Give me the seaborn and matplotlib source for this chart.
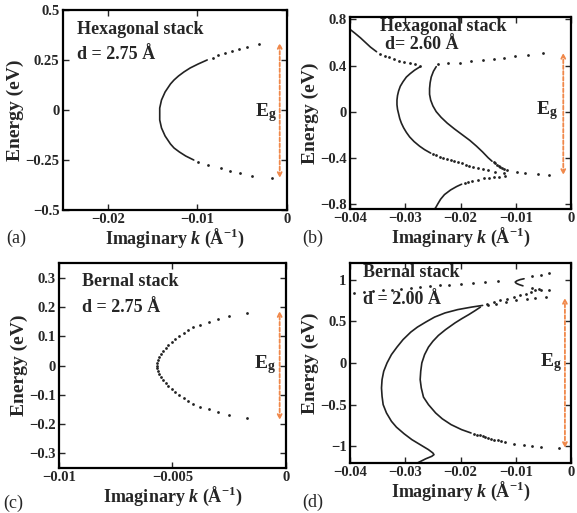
import numpy as np
import seaborn as sns
import matplotlib.pyplot as plt
from matplotlib.ticker import FuncFormatter

sns.set_style('ticks', {'xtick.direction': 'in', 'ytick.direction': 'in'})
plt.rcParams['font.family'] = ['Liberation Serif', 'DejaVu Serif']
plt.rcParams['font.weight'] = 'bold'
plt.rcParams['axes.labelweight'] = 'bold'
plt.rcParams['mathtext.fontset'] = 'custom'
plt.rcParams['mathtext.rm'] = 'Liberation Serif:bold'
plt.rcParams['mathtext.it'] = 'Liberation Serif:italic:bold'
plt.rcParams['mathtext.bf'] = 'Liberation Serif:bold'

CURVE = '#222222'
ARROW = '#f0884a'

# ---- (a) hexagonal stack, d = 2.75 A
a_line_e = [0.25, 0.23, 0.21, 0.19, 0.17, 0.15, 0.13, 0.11, 0.09, 0.07, 0.05, 0.03, 0.01, -0.01, -0.03,
            -0.05, -0.07, -0.09, -0.11, -0.13, -0.15, -0.17, -0.19, -0.21, -0.23, -0.25]
a_line_k = [-0.0089, -0.0099, -0.0108, -0.0115, -0.0121, -0.0126, -0.0130, -0.0133, -0.0136, -0.0138,
            -0.0140, -0.0141, -0.0142, -0.0142, -0.0142, -0.0142, -0.0141, -0.0140, -0.0138, -0.0136,
            -0.0133, -0.0130, -0.0126, -0.0120, -0.0113, -0.0104]
a_dot_e = [0.33, 0.315, 0.305, 0.295, 0.285, 0.275, 0.26, -0.26, -0.275, -0.29, -0.305, -0.315, -0.33, -0.34]
a_dot_k = [-0.0031, -0.0044, -0.0053, -0.0061, -0.0069, -0.0077, -0.0083, -0.0099, -0.0088, -0.0074,
           -0.0063, -0.0052, -0.0039, -0.0017]

# ---- (b) hexagonal stack, d = 2.60 A
b_ul_line_e = [0.75, 0.714, 0.68, 0.64, 0.60, 0.56, 0.52]
b_ul_line_k = [-0.0412, -0.0400, -0.0391, -0.0381, -0.0372, -0.0363, -0.0352]
b_ul_dot_e = [0.50, 0.485, 0.47, 0.455, 0.44, 0.43, 0.42, 0.41, 0.40]
b_ul_dot_k = [-0.0345, -0.0337, -0.0329, -0.0320, -0.0311, -0.0302, -0.0292, -0.0283, -0.0274]
b_ur_dot_e = [0.41, 0.42, 0.425, 0.435, 0.445, 0.455, 0.465, 0.48, 0.495, 0.51]
b_ur_dot_k = [-0.0240, -0.0222, -0.0201, -0.0181, -0.0160, -0.0139, -0.0121, -0.0101, -0.0077, -0.0050]
b_lc_line_e = [0.39, 0.36, 0.33, 0.30, 0.26, 0.22, 0.18, 0.14, 0.10, 0.06, 0.02, -0.02, -0.06, -0.10,
               -0.14, -0.18, -0.22, -0.26, -0.30, -0.33, -0.36]
b_lc_line_k = [-0.0273, -0.0283, -0.0291, -0.0298, -0.0304, -0.0309, -0.0312, -0.0314, -0.0315, -0.0315,
               -0.0314, -0.0312, -0.0310, -0.0307, -0.0303, -0.0298, -0.0292, -0.0284, -0.0274, -0.0265,
               -0.0254]
b_lc_dot_e = [-0.37, -0.38, -0.39, -0.40, -0.41, -0.42, -0.43, -0.44, -0.45, -0.46, -0.47, -0.48, -0.49,
              -0.50, -0.51, -0.52, -0.53]
b_lc_dot_k = [-0.0250, -0.0244, -0.0238, -0.0232, -0.0225, -0.0218, -0.0211, -0.0204, -0.0197, -0.0190,
              -0.0184, -0.0177, -0.0169, -0.0160, -0.0150, -0.0137, -0.0122]
b_rc_line_e = [0.39, 0.35, 0.30, 0.25, 0.20, 0.15, 0.10, 0.05, 0.00, -0.05, -0.10, -0.15, -0.20, -0.25,
               -0.30, -0.35, -0.40, -0.43]
b_rc_line_k = [-0.0244, -0.0249, -0.0253, -0.0255, -0.0256, -0.0256, -0.0254, -0.0250, -0.0244, -0.0235,
               -0.0224, -0.0211, -0.0197, -0.0183, -0.0171, -0.0160, -0.0150, -0.0143]
b_rc_dot_e = [-0.44, -0.45, -0.46, -0.47, -0.48, -0.49, -0.50, -0.51, -0.52, -0.53, -0.54, -0.55]
b_rc_dot_k = [-0.0140, -0.0137, -0.0134, -0.0131, -0.0128, -0.0125, -0.0122, -0.0116, -0.0098,
              -0.0084, -0.0060, -0.0039]
b_lo_line_e = [-0.87, -0.834, -0.80, -0.76, -0.72, -0.68, -0.65, -0.63]
b_lo_line_k = [-0.0252, -0.0245, -0.0241, -0.0236, -0.0229, -0.0218, -0.0207, -0.0198]
b_lo_dot_e = [-0.62, -0.61, -0.60, -0.59, -0.58, -0.575, -0.57, -0.565, -0.56]
b_lo_dot_k = [-0.0192, -0.0186, -0.0179, -0.0168, -0.0157, -0.0148, -0.0140, -0.0130, -0.0120]

# ---- (c) Bernal stack, d = 2.75 A
c_dot_e = [0.18, 0.17, 0.16, 0.15, 0.14, 0.13, 0.12, 0.11, 0.10, 0.09, 0.08, 0.07, 0.06, 0.05, 0.04, 0.03,
           0.02, 0.01, 0.00, -0.01, -0.02, -0.03, -0.04, -0.05, -0.06, -0.07, -0.08, -0.09, -0.10, -0.11,
           -0.12, -0.13, -0.14, -0.15, -0.16, -0.17, -0.18]
c_dot_k = [-0.0017, -0.0025, -0.0030, -0.0034, -0.0038, -0.0041, -0.0043, -0.0045, -0.0047, -0.0049,
           -0.0050, -0.0052, -0.0053, -0.0054, -0.0055, -0.0056, -0.00563, -0.00566, -0.00567, -0.00566,
           -0.00563, -0.0056, -0.0055, -0.0054, -0.0053, -0.0052, -0.0050, -0.0049, -0.0047, -0.0045,
           -0.0043, -0.0041, -0.0038, -0.0034, -0.0030, -0.0025, -0.0017]

# ---- (d) Bernal stack, d = 2.00 A
d_oc_line_e = [0.69, 0.67, 0.64, 0.60, 0.55, 0.49, 0.43, 0.37, 0.28, 0.19, 0.10, 0.00, -0.10, -0.20, -0.30,
               -0.40, -0.50, -0.60, -0.70, -0.77, -0.85, -0.92, -0.98, -1.04, -1.08, -1.10, -1.12, -1.15,
               -1.20, -1.25]
d_oc_line_k = [-0.0160, -0.0180, -0.0205, -0.0228, -0.0247, -0.0263, -0.0278, -0.0290, -0.0304, -0.0315,
               -0.0325, -0.0333, -0.0339, -0.0342, -0.0343, -0.0342, -0.0340, -0.0334, -0.0325, -0.0316,
               -0.0302, -0.0288, -0.0273, -0.0258, -0.0250, -0.0248, -0.0252, -0.0263, -0.0278, -0.0290]
d_oc_dot_e = [0.71, 0.73, 0.75, 0.77, 0.79, 0.81, 0.83, 0.85, 0.87, 0.89]
d_oc_dot_k = [-0.0152, -0.0140, -0.0128, -0.0116, -0.0104, -0.0092, -0.0082, -0.0073, -0.0065, -0.0058]
d_ic_line_e = [0.67, 0.63, 0.58, 0.53, 0.48, 0.40, 0.33, 0.26, 0.19, 0.10, 0.00, -0.10, -0.20, -0.30,
               -0.41, -0.50, -0.60, -0.67, -0.74, -0.80, -0.84]
d_ic_line_k = [-0.0164, -0.0173, -0.0185, -0.0198, -0.0210, -0.0227, -0.0240, -0.0250, -0.0258, -0.0265,
               -0.0270, -0.0272, -0.0273, -0.0271, -0.0267, -0.0258, -0.0245, -0.0233, -0.0217, -0.0198,
               -0.0181]
d_ic_dot_e = [0.69, 0.71, 0.73, 0.75, 0.77, 0.78, 0.79,
              -0.85, -0.86, -0.87, -0.88, -0.89, -0.90, -0.91, -0.92, -0.93, -0.94, -0.95, -0.97,
              -0.99, -1.00, -1.01, -1.02]
d_ic_dot_k = [-0.0150, -0.0135, -0.0118, -0.0100, -0.0080, -0.0065, -0.0045,
              -0.0176, -0.0170, -0.0165, -0.0160, -0.0155, -0.0150, -0.0145, -0.0139, -0.0133, -0.0127,
              -0.0120, -0.0103, -0.0085, -0.0070, -0.0055, -0.0021]
d_top_dot_e = [0.83, 0.84, 0.85, 0.86, 0.87, 0.88, 0.89, 0.90, 0.91, 0.92, 0.93, 0.94, 0.95, 0.96, 0.97, 0.98]
d_top_dot_k = [-0.0410, -0.0392, -0.0375, -0.0358, -0.0341, -0.0324, -0.0307, -0.0290, -0.0273, -0.0256,
               -0.0238, -0.0220, -0.0200, -0.0178, -0.0155, -0.0133]
d_sc_line_e = [1.01, 1.00, 0.985, 0.97, 0.955, 0.94, 0.925]
d_sc_line_k = [-0.0085, -0.0092, -0.0098, -0.0101, -0.0099, -0.0094, -0.0087]
d_sc_dot_e = [1.04, 1.06, 1.08, 0.90, 0.88, 0.87]
d_sc_dot_k = [-0.0070, -0.0055, -0.0040, -0.0070, -0.0055, -0.0040]

panels = {
    'a': dict(rect=[0.1092, 0.5906, 0.388, 0.390], xlim=(-0.025, 0), ylim=(-0.5, 0.5),
              xticks=[-0.02, -0.01, 0], yticks=[-0.5, -0.25, 0, 0.25, 0.5],
              lines=[(a_line_k, a_line_e)], dots=[(a_dot_k, a_dot_e)],
              title='Hexagonal stack', title_xy=(0.062, 0.945), sub='d = 2.75 Å', sub_xy=(0.062, 0.82),
              arrow=(-0.0008, -0.34, 0.335), eg_xy=(0.955, 0.485), tag='(a)', tag_xy=(0.010, 0.536)),
    'b': dict(rect=[0.6066, 0.5926, 0.383, 0.374], xlim=(-0.04, 0), ylim=(-0.845, 0.82),
              xticks=[-0.04, -0.03, -0.02, -0.01, 0], yticks=[-0.8, -0.4, 0, 0.4, 0.8],
              lines=[(b_ul_line_k, b_ul_line_e), (b_lc_line_k, b_lc_line_e), (b_rc_line_k, b_rc_line_e),
                     (b_lo_line_k, b_lo_line_e)],
              dots=[(b_ul_dot_k, b_ul_dot_e), (b_ur_dot_k, b_ur_dot_e), (b_lc_dot_k, b_lc_dot_e),
                    (b_rc_dot_k, b_rc_dot_e), (b_lo_dot_k, b_lo_dot_e)],
              title='Hexagonal stack', title_xy=(0.135, 0.995), sub='d= 2.60 Å', sub_xy=(0.16, 0.90),
              arrow=(-0.0014, -0.55, 0.51), eg_xy=(0.942, 0.515), tag='(b)', tag_xy=(0.523, 0.536)),
    'c': dict(rect=[0.1023, 0.0877, 0.393, 0.3996], xlim=(-0.01, 0), ylim=(-0.35, 0.35),
              xticks=[-0.01, -0.005, 0], yticks=[-0.3, -0.2, -0.1, 0, 0.1, 0.2, 0.3],
              lines=[], dots=[(c_dot_k, c_dot_e)],
              title='Bernal stack', title_xy=(0.10, 0.95), sub='d = 2.75 Å', sub_xy=(0.10, 0.825),
              arrow=(-0.00027, -0.186, 0.186), eg_xy=(0.955, 0.507), tag='(c)', tag_xy=(0.006, 0.0195)),
    'd': dict(rect=[0.6066, 0.0975, 0.383, 0.390], xlim=(-0.04, 0), ylim=(-1.2, 1.2),
              xticks=[-0.04, -0.03, -0.02, -0.01, 0], yticks=[-1, -0.5, 0, 0.5, 1],
              lines=[(d_oc_line_k, d_oc_line_e), (d_ic_line_k, d_ic_line_e), (d_sc_line_k, d_sc_line_e)],
              dots=[(d_oc_dot_k, d_oc_dot_e), (d_ic_dot_k, d_ic_dot_e), (d_top_dot_k, d_top_dot_e),
                    (d_sc_dot_k, d_sc_dot_e)],
              title='Bernal stack', title_xy=(0.058, 0.995), sub='d = 2.00 Å', sub_xy=(0.058, 0.86),
              arrow=(-0.0011, -1.02, 0.78), eg_xy=(0.96, 0.50), tag='(d)', tag_xy=(0.523, 0.0215)),
}


def fmt(v, pos):
    s = '%g' % v
    if s == '-0':
        s = '0'
    return s.replace('-', '\u2212')


fig = plt.figure(figsize=(5.77, 5.13), dpi=100)

for key, p in panels.items():
    ax = fig.add_axes(p['rect'])
    for k, e in p['lines']:
        sns.lineplot(x=k, y=e, sort=False, estimator=None, ax=ax, color=CURVE, lw=1.2)
    for k, e in p['dots']:
        sns.scatterplot(x=k, y=e, ax=ax, color=CURVE, s=4, linewidth=0)
    ax.set_xlim(*p['xlim'])
    ax.set_ylim(*p['ylim'])
    ax.set_xticks(p['xticks'])
    ax.set_yticks(p['yticks'])
    ax.xaxis.set_major_formatter(FuncFormatter(fmt))
    ax.yaxis.set_major_formatter(FuncFormatter(fmt))
    ax.tick_params(direction='in', top=True, right=True, length=4, width=1, labelsize=10.5, pad=2.5)
    for sp in ax.spines.values():
        sp.set_linewidth(1.6)
        sp.set_color('black')
    ax.set_xlabel('Imaginary $k$ (Å$^{-1}$)', fontsize=13, labelpad=0)
    ax.set_ylabel('Energy (eV)', fontsize=14, labelpad=1)

    ax.text(*p['title_xy'], p['title'], transform=ax.transAxes, fontsize=13, va='top', ha='left')
    ax.text(*p['sub_xy'], p['sub'], transform=ax.transAxes, fontsize=13, va='top', ha='left')

    xa, y0, y1 = p['arrow']
    ax.annotate('', xy=(xa, y1), xytext=(xa, y0),
                arrowprops=dict(arrowstyle='<->', color=ARROW, lw=1.3, ls=(0, (2, 1.2)),
                                shrinkA=0, shrinkB=0, mutation_scale=7))
    ax.text(*p['eg_xy'], r'E$_\mathrm{g}$', transform=ax.transAxes, fontsize=14, ha='right', va='center')

    fig.text(*p['tag_xy'], p['tag'], fontsize=13, fontweight='normal', ha='left', va='center')

fig.savefig('out.png', dpi=100)
